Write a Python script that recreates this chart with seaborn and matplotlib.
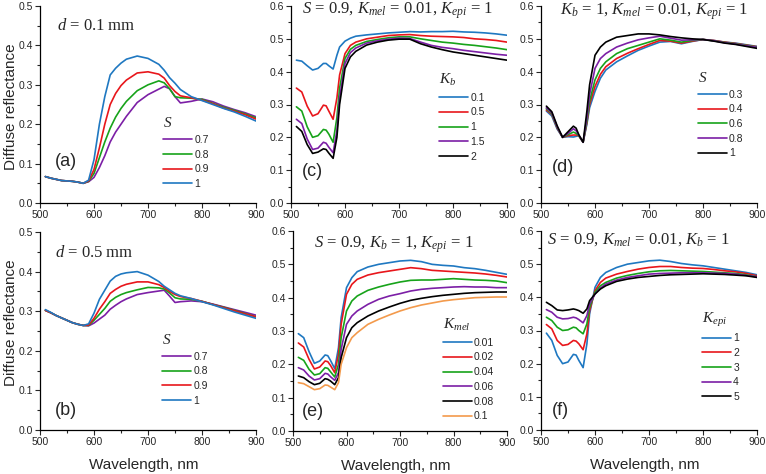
import numpy as np
import pandas as pd
import seaborn as sns
import matplotlib
matplotlib.use('Agg')
import matplotlib.pyplot as plt
from matplotlib.ticker import MultipleLocator

# === data ===
wl_ab = [510, 520, 530, 540, 550, 560, 570, 580, 590, 600, 610, 620, 630, 640, 650,
         660, 680, 700, 720, 730, 740, 750, 760, 780, 800, 820, 840, 860, 880, 900]

# (a) d = 0.1 mm
a_07 = [0.067, 0.063, 0.060, 0.057, 0.056, 0.055, 0.053, 0.050, 0.054, 0.065, 0.090, 0.120, 0.155, 0.180, 0.200,
        0.220, 0.255, 0.275, 0.289, 0.296, 0.290, 0.270, 0.254, 0.258, 0.264, 0.257, 0.246, 0.237, 0.229, 0.219]
a_08 = [0.067, 0.063, 0.060, 0.057, 0.056, 0.055, 0.053, 0.050, 0.055, 0.075, 0.115, 0.155, 0.190, 0.218, 0.240,
        0.258, 0.285, 0.300, 0.310, 0.305, 0.290, 0.270, 0.267, 0.266, 0.263, 0.253, 0.243, 0.235, 0.226, 0.216]
a_09 = [0.067, 0.063, 0.060, 0.057, 0.056, 0.055, 0.053, 0.050, 0.056, 0.085, 0.140, 0.200, 0.250, 0.278, 0.298,
        0.312, 0.330, 0.333, 0.327, 0.317, 0.298, 0.283, 0.272, 0.267, 0.261, 0.252, 0.241, 0.233, 0.224, 0.213]
a_10 = [0.067, 0.063, 0.060, 0.057, 0.056, 0.055, 0.053, 0.050, 0.058, 0.110, 0.200, 0.270, 0.325, 0.342, 0.355,
        0.365, 0.373, 0.367, 0.352, 0.337, 0.318, 0.304, 0.288, 0.270, 0.260, 0.250, 0.240, 0.231, 0.220, 0.208]

# (b) d = 0.5 mm
b_07 = [0.302, 0.296, 0.289, 0.283, 0.277, 0.271, 0.267, 0.264, 0.263, 0.270, 0.280, 0.290, 0.305, 0.315, 0.324,
        0.331, 0.342, 0.347, 0.351, 0.353, 0.338, 0.322, 0.324, 0.326, 0.324, 0.318, 0.311, 0.304, 0.297, 0.290]
b_08 = [0.302, 0.296, 0.289, 0.283, 0.277, 0.271, 0.267, 0.264, 0.264, 0.277, 0.292, 0.307, 0.325, 0.335, 0.342,
        0.347, 0.354, 0.360, 0.359, 0.356, 0.346, 0.334, 0.331, 0.330, 0.325, 0.317, 0.310, 0.302, 0.294, 0.286]
b_09 = [0.302, 0.296, 0.289, 0.283, 0.277, 0.271, 0.267, 0.264, 0.265, 0.282, 0.305, 0.324, 0.345, 0.355, 0.363,
        0.368, 0.374, 0.374, 0.367, 0.360, 0.350, 0.342, 0.337, 0.332, 0.325, 0.317, 0.309, 0.301, 0.293, 0.286]
b_10 = [0.304, 0.297, 0.289, 0.283, 0.277, 0.271, 0.267, 0.264, 0.268, 0.295, 0.330, 0.353, 0.376, 0.388, 0.394,
        0.397, 0.400, 0.391, 0.375, 0.363, 0.354, 0.345, 0.339, 0.332, 0.324, 0.316, 0.307, 0.298, 0.290, 0.282]

wl_cf = [510, 520, 530, 540, 550, 560, 565, 570, 578, 585, 590, 600, 610, 620,
         640, 660, 680, 700, 720, 740, 760, 780, 800, 820, 840, 860, 880, 900]

# (c) Kb series
c_01 = [0.435, 0.432, 0.418, 0.405, 0.410, 0.425, 0.425, 0.418, 0.408, 0.450, 0.475, 0.493, 0.502, 0.508,
        0.512, 0.515, 0.518, 0.520, 0.522, 0.521, 0.522, 0.522, 0.523, 0.521, 0.520, 0.518, 0.515, 0.511]
c_05 = [0.350, 0.338, 0.295, 0.265, 0.272, 0.298, 0.296, 0.280, 0.255, 0.320, 0.390, 0.455, 0.480, 0.490,
        0.500, 0.505, 0.510, 0.512, 0.513, 0.510, 0.508, 0.507, 0.506, 0.504, 0.500, 0.498, 0.495, 0.490]
c_1 = [0.293, 0.280, 0.232, 0.200, 0.205, 0.224, 0.222, 0.210, 0.185, 0.260, 0.350, 0.440, 0.468, 0.480,
       0.492, 0.498, 0.503, 0.506, 0.506, 0.500, 0.495, 0.490, 0.487, 0.483, 0.480, 0.476, 0.472, 0.467]
c_15 = [0.255, 0.242, 0.195, 0.163, 0.167, 0.185, 0.182, 0.170, 0.153, 0.220, 0.320, 0.425, 0.458, 0.472,
        0.487, 0.494, 0.499, 0.502, 0.501, 0.490, 0.480, 0.474, 0.470, 0.465, 0.461, 0.457, 0.453, 0.450]
c_2 = [0.233, 0.218, 0.178, 0.151, 0.155, 0.165, 0.163, 0.152, 0.136, 0.200, 0.300, 0.410, 0.445, 0.462,
       0.481, 0.490, 0.496, 0.499, 0.499, 0.485, 0.475, 0.467, 0.460, 0.455, 0.450, 0.445, 0.440, 0.435]

# (d) S series
d_03 = [0.280, 0.265, 0.225, 0.200, 0.202, 0.201, 0.203, 0.205, 0.185, 0.240, 0.290, 0.340, 0.380, 0.405,
        0.430, 0.448, 0.465, 0.478, 0.490, 0.492, 0.485, 0.492, 0.498, 0.495, 0.490, 0.487, 0.482, 0.477]
d_04 = [0.283, 0.270, 0.228, 0.200, 0.205, 0.207, 0.207, 0.205, 0.185, 0.245, 0.300, 0.355, 0.392, 0.415,
        0.440, 0.456, 0.470, 0.483, 0.495, 0.493, 0.487, 0.493, 0.498, 0.495, 0.490, 0.486, 0.481, 0.476]
d_06 = [0.287, 0.272, 0.230, 0.200, 0.208, 0.216, 0.212, 0.205, 0.185, 0.250, 0.310, 0.375, 0.410, 0.430,
        0.455, 0.470, 0.480, 0.490, 0.500, 0.496, 0.490, 0.495, 0.498, 0.494, 0.489, 0.485, 0.480, 0.475]
d_08 = [0.290, 0.275, 0.232, 0.200, 0.212, 0.226, 0.220, 0.207, 0.185, 0.260, 0.330, 0.410, 0.440, 0.455,
        0.475, 0.487, 0.497, 0.503, 0.508, 0.502, 0.496, 0.497, 0.498, 0.494, 0.488, 0.484, 0.479, 0.474]
d_1 = [0.295, 0.278, 0.235, 0.200, 0.217, 0.234, 0.228, 0.208, 0.185, 0.280, 0.360, 0.450, 0.475, 0.490,
       0.505, 0.510, 0.515, 0.515, 0.512, 0.507, 0.503, 0.500, 0.498, 0.493, 0.487, 0.483, 0.477, 0.471]

# (e) Kmel series
e_001 = [0.292, 0.280, 0.238, 0.203, 0.210, 0.228, 0.226, 0.212, 0.187, 0.250, 0.340, 0.430, 0.460, 0.478,
         0.492, 0.500, 0.505, 0.510, 0.512, 0.508, 0.500, 0.497, 0.495, 0.490, 0.487, 0.482, 0.476, 0.470]
e_002 = [0.264, 0.252, 0.215, 0.186, 0.192, 0.210, 0.208, 0.197, 0.175, 0.230, 0.320, 0.410, 0.440, 0.455,
         0.468, 0.475, 0.480, 0.485, 0.490, 0.487, 0.482, 0.480, 0.478, 0.476, 0.474, 0.471, 0.467, 0.462]
e_004 = [0.221, 0.212, 0.185, 0.168, 0.172, 0.190, 0.188, 0.178, 0.162, 0.200, 0.280, 0.360, 0.390, 0.405,
         0.422, 0.432, 0.440, 0.447, 0.452, 0.453, 0.453, 0.455, 0.457, 0.455, 0.453, 0.452, 0.450, 0.445]
e_006 = [0.190, 0.183, 0.165, 0.153, 0.157, 0.173, 0.171, 0.163, 0.152, 0.175, 0.245, 0.320, 0.345, 0.360,
         0.380, 0.395, 0.405, 0.412, 0.420, 0.425, 0.428, 0.430, 0.432, 0.433, 0.432, 0.432, 0.430, 0.430]
e_008 = [0.165, 0.160, 0.148, 0.139, 0.143, 0.157, 0.155, 0.150, 0.139, 0.160, 0.220, 0.280, 0.310, 0.325,
         0.345, 0.360, 0.372, 0.383, 0.392, 0.398, 0.403, 0.407, 0.410, 0.413, 0.415, 0.416, 0.417, 0.417]
e_01 = [0.145, 0.142, 0.133, 0.124, 0.127, 0.138, 0.137, 0.132, 0.124, 0.145, 0.200, 0.250, 0.280, 0.295,
        0.320, 0.335, 0.348, 0.360, 0.370, 0.378, 0.384, 0.390, 0.394, 0.397, 0.400, 0.401, 0.402, 0.402]

# (f) Kepi series
f_1 = [0.292, 0.270, 0.225, 0.200, 0.205, 0.228, 0.226, 0.210, 0.188, 0.260, 0.350, 0.430, 0.460, 0.475,
       0.490, 0.500, 0.505, 0.510, 0.512, 0.508, 0.502, 0.498, 0.495, 0.490, 0.485, 0.480, 0.475, 0.468]
f_2 = [0.318, 0.305, 0.270, 0.255, 0.258, 0.270, 0.268, 0.260, 0.242, 0.290, 0.360, 0.420, 0.445, 0.458,
       0.470, 0.478, 0.485, 0.490, 0.493, 0.493, 0.490, 0.488, 0.487, 0.484, 0.480, 0.477, 0.472, 0.465]
f_3 = [0.340, 0.330, 0.310, 0.300, 0.302, 0.310, 0.308, 0.300, 0.290, 0.320, 0.370, 0.415, 0.435, 0.445,
       0.458, 0.466, 0.472, 0.477, 0.480, 0.481, 0.480, 0.479, 0.478, 0.476, 0.474, 0.472, 0.468, 0.462]
f_4 = [0.363, 0.355, 0.340, 0.335, 0.336, 0.340, 0.338, 0.333, 0.323, 0.345, 0.380, 0.410, 0.428, 0.440,
       0.452, 0.460, 0.465, 0.470, 0.472, 0.473, 0.474, 0.474, 0.474, 0.473, 0.472, 0.470, 0.466, 0.462]
f_5 = [0.385, 0.375, 0.362, 0.360, 0.362, 0.365, 0.363, 0.360, 0.352, 0.365, 0.390, 0.410, 0.425, 0.435,
       0.448, 0.455, 0.460, 0.463, 0.466, 0.468, 0.469, 0.470, 0.471, 0.470, 0.469, 0.467, 0.465, 0.460]

# === style ===
sns.set_style('ticks')
plt.rcParams['font.family'] = ['Liberation Sans', 'DejaVu Sans']
plt.rcParams['mathtext.fontset'] = 'custom'
plt.rcParams['mathtext.rm'] = 'Liberation Serif'
plt.rcParams['mathtext.it'] = 'Liberation Serif:italic'
plt.rcParams['xtick.direction'] = 'out'
plt.rcParams['ytick.direction'] = 'out'

BLUE, RED, GREEN, PURPLE, BLACK, ORANGE = '#1f78c1', '#e8161b', '#17a31a', '#7c1fa6', '#000000', '#f39a4c'
SERIF = ['Liberation Serif', 'DejaVu Serif']

fig = plt.figure(figsize=(7.66, 4.74), dpi=100)
W, H = 766, 474
ax_a = fig.add_axes([40 / W, 1 - 203 / H, 216 / W, 197 / H])
ax_b = fig.add_axes([40 / W, 1 - 430 / H, 216 / W, 198 / H])
ax_c = fig.add_axes([291 / W, 1 - 203 / H, 216 / W, 197 / H])
ax_e = fig.add_axes([293 / W, 1 - 431 / H, 214 / W, 200 / H])
ax_d = fig.add_axes([541 / W, 1 - 203 / H, 216 / W, 197 / H])
ax_f = fig.add_axes([541 / W, 1 - 430 / H, 216 / W, 199 / H])


def draw(ax, wl, series, ymax, title, tpos, tag, tagpos, legtitle, legpos):
    for vals, col, lab in series:
        sns.lineplot(x=wl, y=vals, color=col, lw=1.2, label=lab, ax=ax)
    ax.set_xlim(500, 900)
    ax.set_ylim(0, ymax)
    ax.xaxis.set_major_locator(MultipleLocator(100))
    ax.xaxis.set_minor_locator(MultipleLocator(50))
    ax.yaxis.set_major_locator(MultipleLocator(0.1))
    ax.yaxis.set_minor_locator(MultipleLocator(0.05))
    ax.yaxis.set_major_formatter(matplotlib.ticker.FormatStrFormatter('%.1f'))
    ax.tick_params(which='major', length=3.5, width=0.8, labelsize=7.5, pad=1.5)
    ax.tick_params(which='minor', length=2, width=0.8)
    for s in ['top', 'right']:
        ax.spines[s].set_visible(False)
    for s in ['left', 'bottom']:
        ax.spines[s].set_linewidth(0.9)
        ax.spines[s].set_color('black')
    ax.text(tpos[0], tpos[1], title, transform=ax.transAxes, fontsize=12,
            family=SERIF, ha='left', va='center')
    ax.text(tagpos[0], tagpos[1], tag, transform=ax.transAxes, fontsize=13,
            ha='center', va='center')
    ax.legend(title=legtitle, loc='upper left', bbox_to_anchor=legpos, frameon=False,
              fontsize=7.5, title_fontsize=11, handlelength=2.8, handletextpad=0.2,
              labelspacing=0.45, borderpad=0, borderaxespad=0, alignment='left')
    ax.set_xlabel('')
    ax.set_ylabel('')


draw(ax_a, wl_ab, [(a_07, PURPLE, '0.7'), (a_08, GREEN, '0.8'), (a_09, RED, '0.9'), (a_10, BLUE, '1')],
     0.5, '$d$ = 0.1 mm', (0.078, 0.9), '(a)', (0.12, 0.21), '$S$', (0.57, 0.44))
draw(ax_b, wl_ab, [(b_07, PURPLE, '0.7'), (b_08, GREEN, '0.8'), (b_09, RED, '0.9'), (b_10, BLUE, '1')],
     0.5, '$d$ = 0.5 mm', (0.07, 0.895), '(b)', (0.12, 0.10), '$S$', (0.565, 0.49))
draw(ax_c, wl_cf, [(c_01, BLUE, '0.1'), (c_05, RED, '0.5'), (c_1, GREEN, '1'), (c_15, PURPLE, '1.5'),
                   (c_2, BLACK, '2')],
     0.6, '$S$ = 0.9, $K_{mel}$ = 0.01, $K_{epi}$ = 1', (0.05, 0.975), '(c)', (0.10, 0.16),
     '$K_b$', (0.685, 0.665))
draw(ax_d, wl_cf, [(d_03, BLUE, '0.3'), (d_04, RED, '0.4'), (d_06, GREEN, '0.6'), (d_08, PURPLE, '0.8'),
                   (d_1, BLACK, '1')],
     0.6, '$K_b$ = $1$, $K_{mel}$ = 0.01, $K_{epi}$ = 1', (0.088, 0.97), '(d)', (0.10, 0.18),
     '$S$', (0.725, 0.67))
draw(ax_e, wl_cf, [(e_001, BLUE, '0.01'), (e_002, RED, '0.02'), (e_004, GREEN, '0.04'), (e_006, PURPLE, '0.06'),
                   (e_008, BLACK, '0.08'), (e_01, ORANGE, '0.1')],
     0.6, '$S$ = 0.9, $K_b$ = 1, $K_{epi}$ = 1', (0.10, 0.93), '(e)', (0.093, 0.095),
     '$K_{mel}$', (0.70, 0.57))
draw(ax_f, wl_cf, [(f_1, BLUE, '1'), (f_2, RED, '2'), (f_3, GREEN, '3'), (f_4, PURPLE, '4'),
                   (f_5, BLACK, '5')],
     0.6, '$S$ = 0.9, $K_{mel}$ = 0.01, $K_b$ = 1', (0.028, 0.955), '(f)', (0.088, 0.10),
     '$K_{epi}$', (0.745, 0.60))

ax_a.set_ylabel('Diffuse reflectance', fontsize=11)
ax_a.yaxis.set_label_coords(-0.10, 0.49)
ax_b.set_ylabel('Diffuse reflectance', fontsize=11)
ax_b.yaxis.set_label_coords(-0.10, 0.54)
for ax in [ax_b, ax_e, ax_f]:
    ax.set_xlabel('Wavelength, nm', fontsize=11)
    ax.xaxis.set_label_coords(0.48, -0.14)

plt.savefig('out.png', dpi=100)
